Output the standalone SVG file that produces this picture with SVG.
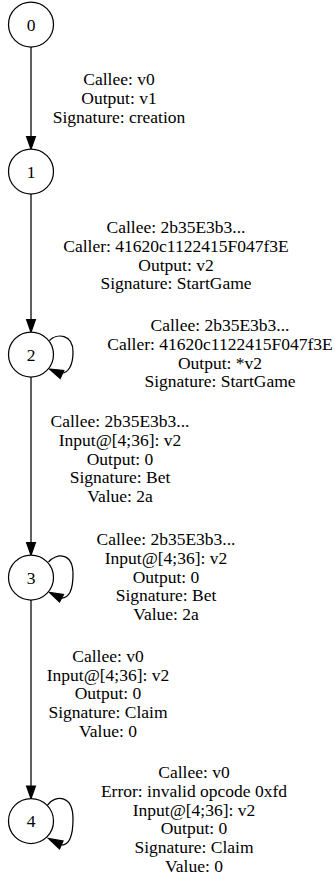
<svg xmlns="http://www.w3.org/2000/svg" width="335" height="880" viewBox="0 0 335 880">
<defs>
<style>
.node circle{fill:#fff;stroke:#000;stroke-width:1.25}
text{font-family:"Liberation Serif","Times New Roman",serif;font-size:17.5px;fill:#000;text-anchor:middle}
.edge path{fill:none;stroke:#000;stroke-width:1.25}
.edge polygon{fill:#000;stroke:#000;stroke-width:1.25}
</style>
</defs>
<rect width="335" height="880" fill="#fff"/>
<g id="edges" class="edge">
<g id="e01">
<path d="M31,47 L31,136.5"/>
<polygon points="26.6,136.5 35.4,136.5 31,149"/>
<text x="119" y="85">Callee: v0</text>
<text x="119" y="103.75">Output: v1</text>
<text x="119" y="122.5">Signature: creation</text>
</g>
<g id="e12">
<path d="M31,194 L31,319.5"/>
<polygon points="26.6,319.5 35.4,319.5 31,332"/>
<text x="176" y="233">Callee: 2b35E3b3...</text>
<text x="176" y="251.75">Caller: 41620c1122415F047f3E</text>
<text x="176" y="270.5">Output: v2</text>
<text x="176" y="289.25">Signature: StartGame</text>
</g>
<g id="e22">
<path d="M49.5,340.5 C57,333 73,334 73,352 C73,366 68,373 61.5,373"/>
<polygon points="63.8,370.5 60.2,378.5 49.5,369"/>
<text x="220" y="331">Callee: 2b35E3b3...</text>
<text x="220" y="349.75">Caller: 41620c1122415F047f3E</text>
<text x="220" y="368.5">Output: *v2</text>
<text x="220" y="387.25">Signature: StartGame</text>
</g>
<g id="e23">
<path d="M31,377 L31,542.5"/>
<polygon points="26.6,542.5 35.4,542.5 31,555"/>
<text x="120" y="427">Callee: 2b35E3b3...</text>
<text x="120" y="445.75">Input@[4;36]: v2</text>
<text x="120" y="464.5">Output: 0</text>
<text x="120" y="483.25">Signature: Bet</text>
<text x="120" y="502">Value: 2a</text>
</g>
<g id="e33">
<path d="M48.5,562 C56,553 73,552 73,574 C73,591 68,598 61.5,598"/>
<polygon points="63.5,594.5 59.5,602 49.5,592.5"/>
<text x="166" y="545">Callee: 2b35E3b3...</text>
<text x="166" y="563.75">Input@[4;36]: v2</text>
<text x="166" y="582.5">Output: 0</text>
<text x="166" y="601.25">Signature: Bet</text>
<text x="166" y="620">Value: 2a</text>
</g>
<g id="e34">
<path d="M31,600 L31,786"/>
<polygon points="26.6,786 35.4,786 31,798.5"/>
<text x="108" y="661.75">Callee: v0</text>
<text x="108" y="680.5">Input@[4;36]: v2</text>
<text x="108" y="699.25">Output: 0</text>
<text x="108" y="718">Signature: Claim</text>
<text x="108" y="736.75">Value: 0</text>
</g>
<g id="e44">
<path d="M47.5,805 C55,795 73,794 73,819 C73,838 68,845 61.5,845"/>
<polygon points="63,841 59.5,849 48.5,838.5"/>
<text x="194" y="778">Callee: v0</text>
<text x="194" y="796.75">Error: invalid opcode 0xfd</text>
<text x="194" y="815.5">Input@[4;36]: v2</text>
<text x="194" y="834.25">Output: 0</text>
<text x="194" y="853">Signature: Claim</text>
<text x="194" y="871.75">Value: 0</text>
</g>
</g>
<g id="node0" class="node"><circle cx="31" cy="24.5" r="22.5"/><text x="31" y="30.5">0</text></g>
<g id="node1" class="node"><circle cx="31" cy="171.5" r="22.5"/><text x="31" y="177.5">1</text></g>
<g id="node2" class="node"><circle cx="31" cy="354.5" r="22.5"/><text x="31" y="360.5">2</text></g>
<g id="node3" class="node"><circle cx="31" cy="577.5" r="22.5"/><text x="31" y="583.5">3</text></g>
<g id="node4" class="node"><circle cx="31" cy="821" r="22.5"/><text x="31" y="827">4</text></g>
</svg>
